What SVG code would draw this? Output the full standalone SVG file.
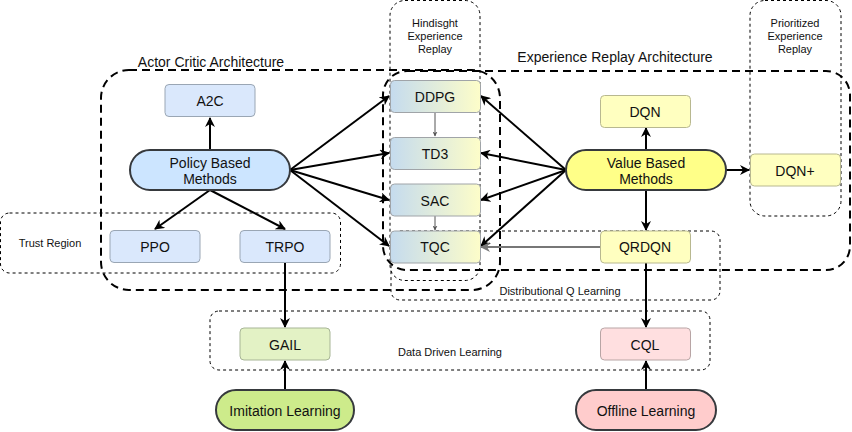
<svg xmlns="http://www.w3.org/2000/svg" width="852" height="432" viewBox="0 0 852 432">
<style>
text{font-family:"Liberation Sans",Arial,sans-serif;fill:#111;text-anchor:middle;dominant-baseline:central}
.t{font-size:14px}
.s{font-size:11px}
.l{font-size:14px}
.grp{fill:none;stroke:#000;stroke-width:1;stroke-dasharray:3 3}
.big{fill:none;stroke:#000;stroke-width:2;stroke-dasharray:8 5}
.blue{fill:#dae8fc;stroke:#9aa6b4}
.yel{fill:#ffffc0;stroke:#b8b890}
.grad{fill:url(#g);stroke:#a0a4a8}
.e{stroke:#000;stroke-width:2;fill:none;marker-end:url(#a)}
.thin{stroke:#555;stroke-width:1;fill:none;marker-end:url(#as)}
.gr{stroke:#777;stroke-width:2;fill:none;marker-end:url(#ag)}
</style>
<defs>
<linearGradient id="g" x1="0" y1="0" x2="1" y2="0">
<stop offset="0" stop-color="#c5dbee"/>
<stop offset="1" stop-color="#fdfdc9"/>
</linearGradient>
<marker id="a" viewBox="0 0 10 10" refX="9" refY="5" markerWidth="5" markerHeight="5" orient="auto" markerUnits="strokeWidth">
<path d="M0,0 L10,5 L0,10 L3,5 z" fill="#000"/>
</marker>
<marker id="ag" viewBox="0 0 10 10" refX="9" refY="5" markerWidth="5" markerHeight="5" orient="auto" markerUnits="strokeWidth">
<path d="M0,0 L10,5 L0,10 L3,5 z" fill="#777"/>
</marker>
<marker id="as" viewBox="0 0 10 10" refX="9" refY="5" markerWidth="5" markerHeight="5" orient="auto" markerUnits="strokeWidth">
<path d="M0,0 L10,5 L0,10 L3,5 z" fill="#555"/>
</marker>
</defs>
<rect width="852" height="432" fill="#fff"/>

<g id="groups">
<rect class="grp" x="0.5" y="213" width="340" height="60" rx="9"/>
<text class="s" x="50" y="243">Trust Region</text>
<rect class="grp" x="390" y="0.5" width="90" height="280" rx="15"/>
<text class="s" x="435" y="23">Hindisght</text>
<text class="s" x="435" y="36">Experience</text>
<text class="s" x="435" y="49">Replay</text>
<rect class="grp" x="750" y="0.5" width="91" height="215.5" rx="15"/>
<text class="s" x="795" y="23">Prioritized</text>
<text class="s" x="795" y="36">Experience</text>
<text class="s" x="795" y="49">Replay</text>
<rect class="grp" x="391" y="231" width="329" height="69" rx="9"/>
<text class="s" x="560" y="291">Distributional Q Learning</text>
<rect class="grp" x="210" y="311" width="500" height="59" rx="9"/>
<text class="s" x="450" y="352">Data Driven Learning</text>
<rect class="big" x="101" y="70" width="399" height="220" rx="28"/>
<text class="l" x="211" y="62">Actor Critic Architecture</text>
<rect class="big" x="383" y="71" width="467" height="199" rx="24"/>
<text class="l" x="615" y="57">Experience Replay Architecture</text>
</g>

<g id="edges">
<path class="e" d="M210,150 V118"/>
<path class="e" d="M210,190 L155,229"/>
<path class="e" d="M210,190 L285,229"/>
<path class="e" d="M290,170 L389,96"/>
<path class="e" d="M290,170 L389,153"/>
<path class="e" d="M290,170 L389,200"/>
<path class="e" d="M290,170 L389,246"/>
<path class="e" d="M566,170 L481,96"/>
<path class="e" d="M566,170 L481,153"/>
<path class="e" d="M566,170 L481,200"/>
<path class="e" d="M566,170 L481,246"/>
<path class="e" d="M646,150 V128"/>
<path class="e" d="M726,170 H749"/>
<path class="e" d="M646,190 V230"/>
<path class="gr" d="M600,247 H481"/>
<path class="thin" d="M435,112 V136"/>
<path class="thin" d="M435,216 V230"/>
<path class="e" d="M285,262 V327"/>
<path class="e" d="M646,263 V327"/>
<path class="e" d="M285,390 V361"/>
<path class="e" d="M646,390 V361"/>
</g>

<g id="A2C"><rect class="blue" x="165" y="84.5" width="90" height="32" rx="4"/><text class="t" x="210" y="101">A2C</text></g>
<g id="Policy"><rect x="130" y="150" width="160" height="40" rx="20" fill="#cce5ff" stroke="#36393d" stroke-width="2"/><text class="t" x="210" y="163">Policy Based</text><text class="t" x="210" y="179">Methods</text></g>
<g id="PPO"><rect class="blue" x="110" y="230.5" width="90" height="32" rx="4"/><text class="t" x="155" y="247">PPO</text></g>
<g id="TRPO"><rect class="blue" x="240" y="230.5" width="90" height="32" rx="4"/><text class="t" x="285" y="247">TRPO</text></g>
<g id="DDPG"><rect class="grad" x="390.5" y="80.5" width="90" height="32" rx="4"/><text class="t" x="435" y="97">DDPG</text></g>
<g id="TD3"><rect class="grad" x="390.5" y="137.5" width="90" height="32" rx="4"/><text class="t" x="435" y="154">TD3</text></g>
<g id="SAC"><rect class="grad" x="390.5" y="184" width="90" height="32" rx="4"/><text class="t" x="435" y="201">SAC</text></g>
<g id="TQC"><rect class="grad" x="390.5" y="231" width="90" height="32" rx="4"/><text class="t" x="435" y="247">TQC</text></g>
<g id="DQN"><rect class="yel" x="600.5" y="95.5" width="90" height="32" rx="4"/><text class="t" x="645" y="112">DQN</text></g>
<g id="Value"><rect x="566" y="150" width="160" height="40" rx="20" fill="#ffff88" stroke="#36393d" stroke-width="2"/><text class="t" x="646" y="163">Value Based</text><text class="t" x="646" y="179">Methods</text></g>
<g id="DQNplus"><rect class="yel" x="750.5" y="154" width="90" height="32" rx="4"/><text class="t" x="795" y="171">DQN+</text></g>
<g id="QRDQN"><rect class="yel" x="600.5" y="231" width="90" height="32" rx="4"/><text class="t" x="645" y="247">QRDQN</text></g>
<g id="GAIL"><rect x="240" y="328" width="90" height="32" rx="4" fill="#e3f2c5" stroke="#a7b596"/><text class="t" x="285" y="345">GAIL</text></g>
<g id="CQL"><rect x="600.5" y="328" width="90" height="32" rx="4" fill="#ffdfe0" stroke="#b8a5a5"/><text class="t" x="645" y="345">CQL</text></g>
<g id="Imitation"><rect x="216" y="390" width="138" height="40" rx="20" fill="#cdeb8b" stroke="#36393d" stroke-width="2"/><text class="t" x="285" y="411">Imitation Learning</text></g>
<g id="Offline"><rect x="576" y="390" width="140" height="40" rx="20" fill="#ffcccc" stroke="#36393d" stroke-width="2"/><text class="t" x="646" y="411">Offline Learning</text></g>
</svg>
